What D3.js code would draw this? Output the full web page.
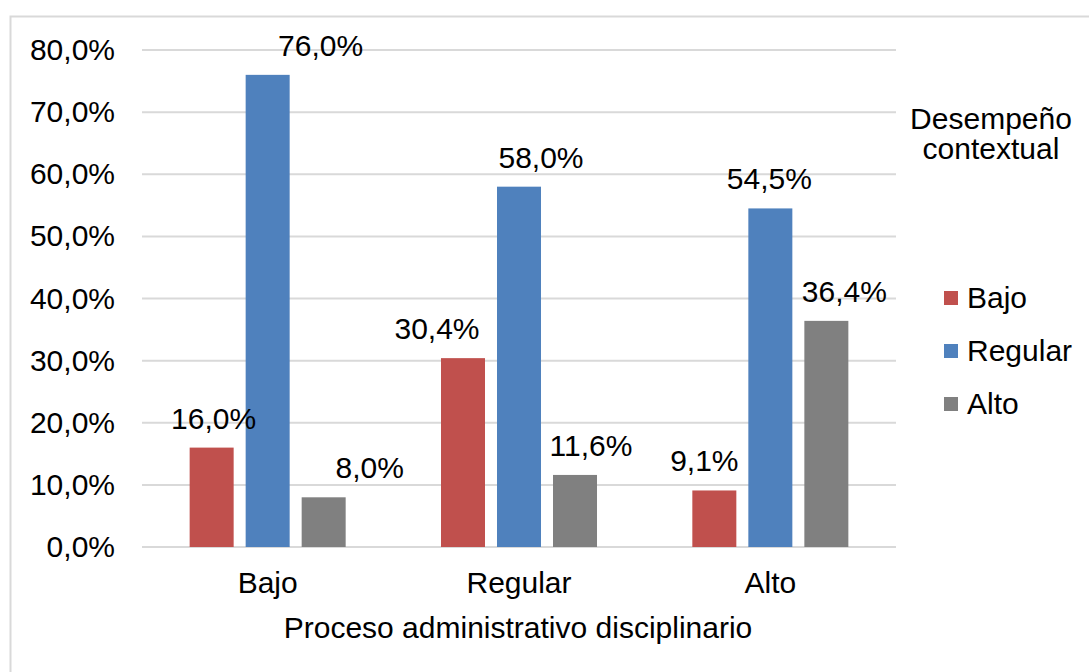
<!DOCTYPE html>
<html>
<head>
<meta charset="utf-8">
<script src="https://cdn.jsdelivr.net/npm/d3@7"></script>
<style>
  html, body { margin: 0; padding: 0; background: #fff; }
  svg { display: block; }
  text { font-family: "Liberation Sans", Arial, sans-serif; fill: #000; }
</style>
</head>
<body>
<svg id="chart" width="1089" height="672"></svg>
<script>
// ---- data ----
const categories = ["Bajo", "Regular", "Alto"];
const seriesNames = ["Bajo", "Regular", "Alto"];
const bajoValues = [16.0, 30.4, 9.1];
const regularValues = [76.0, 58.0, 54.5];
const altoValues = [8.0, 11.6, 36.4];
const yTicks = [0, 10, 20, 30, 40, 50, 60, 70, 80];
const axisTitle = "Proceso administrativo disciplinario";
const legendTitle = ["Desempeño", "contextual"];

// ---- layout / styles (not data) ----
const colors = ["#C0504D", "#4F81BD", "#808080"];
// horizontal nudges of data labels (as placed in the original), per series per category
const labelNudge = [
  [2, -26, -10],
  [53, 22, -1],
  [46, 16, 18]
];

const seriesValues = [bajoValues, regularValues, altoValues];
const fmt = v => v.toFixed(1).replace(".", ",") + "%";

const svg = d3.select("#chart");
const plotLeft = 142, plotRight = 896, plotTop = 50, plotBottom = 547;
const fontSize = 30;

// frame
svg.append("rect")
  .attr("x", 10.5).attr("y", 16.5)
  .attr("width", 1200).attr("height", 800)
  .attr("fill", "none").attr("stroke", "#d9d9d9").attr("stroke-width", 2);

const y = d3.scaleLinear().domain([0, 80]).range([plotBottom, plotTop]);
const x0 = d3.scaleBand().domain(categories).range([plotLeft, plotRight])
  .paddingInner(0.3315).paddingOuter(0.1657);
const x1 = d3.scaleBand().domain(seriesNames).range([0, x0.bandwidth()])
  .paddingInner(12 / 56).paddingOuter(6 / 56);

// gridlines
svg.append("g").selectAll("line").data(yTicks).join("line")
  .attr("x1", plotLeft).attr("x2", plotRight)
  .attr("y1", d => y(d)).attr("y2", d => y(d))
  .attr("stroke", "#d9d9d9").attr("stroke-width", 2);

// y axis labels
const yAxis = d3.axisLeft(y).tickValues(yTicks).tickSize(0).tickPadding(0)
  .tickFormat(d => fmt(d));
const yg = svg.append("g").attr("transform", `translate(${plotLeft - 27},0)`).call(yAxis);
yg.select(".domain").remove();
yg.selectAll("text").attr("font-size", fontSize)
  .attr("font-family", '"Liberation Sans", Arial, sans-serif').attr("fill", "#000");

// bars
const rows = [];
categories.forEach((c, ci) => {
  seriesNames.forEach((s, si) => {
    rows.push({ cat: c, ser: s, ci, si, v: seriesValues[si][ci] });
  });
});

svg.append("g").selectAll("rect").data(rows).join("rect")
  .attr("x", d => x0(d.cat) + x1(d.ser))
  .attr("width", x1.bandwidth())
  .attr("y", d => y(d.v))
  .attr("height", d => y(0) - y(d.v))
  .attr("fill", d => colors[d.si]);

// data labels
svg.append("g").selectAll("text").data(rows).join("text")
  .attr("x", d => x0(d.cat) + x1(d.ser) + x1.bandwidth() / 2 + labelNudge[d.si][d.ci])
  .attr("y", d => y(d.v) - 19)
  .attr("text-anchor", "middle")
  .attr("font-size", fontSize)
  .text(d => fmt(d.v));

// x axis labels
const xAxis = d3.axisBottom(x0).tickSize(0).tickPadding(0);
const xg = svg.append("g").attr("transform", `translate(0,${plotBottom})`).call(xAxis);
xg.select(".domain").remove();
xg.selectAll("text").attr("font-size", fontSize)
  .attr("font-family", '"Liberation Sans", Arial, sans-serif').attr("fill", "#000")
  .attr("dy", null).attr("y", 46);

// axis title
svg.append("text")
  .attr("x", (plotLeft + plotRight) / 2 - 1).attr("y", 638)
  .attr("text-anchor", "middle").attr("font-size", fontSize)
  .text(axisTitle);

// legend
const lg = svg.append("g");
lg.selectAll("text.lt").data(legendTitle).join("text").attr("class", "lt")
  .attr("x", 991).attr("y", (d, i) => 129 + i * 30)
  .attr("text-anchor", "middle").attr("font-size", fontSize)
  .text(d => d);

const legendY = d3.scalePoint().domain(seriesNames).range([298, 404]);
const items = lg.selectAll("g.item").data(seriesNames).join("g").attr("class", "item")
  .attr("transform", d => `translate(944,${legendY(d)})`);
items.append("rect").attr("x", 0).attr("y", -7).attr("width", 14).attr("height", 14)
  .attr("fill", (d, i) => colors[i]);
items.append("text").attr("x", 23).attr("y", 10).attr("font-size", fontSize).text(d => d);
</script>
</body>
</html>
